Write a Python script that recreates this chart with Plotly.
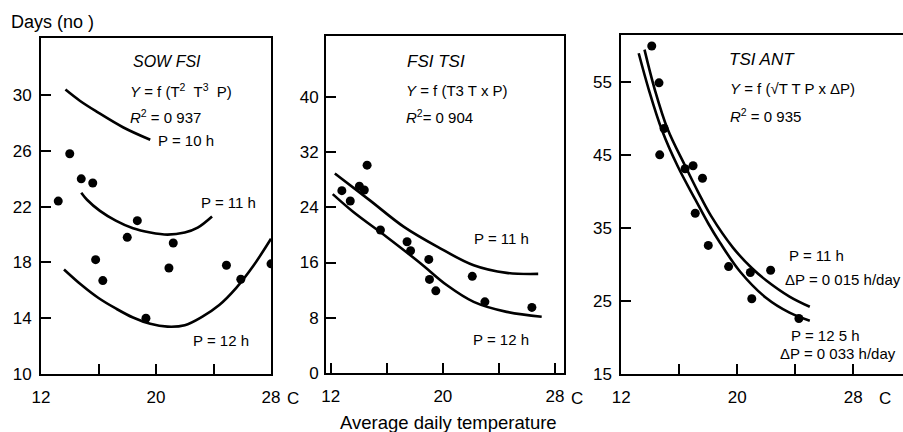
import plotly.graph_objects as go

W, H = 903, 432
FONT = "Liberation Sans, Arial, Helvetica, sans-serif"

# ---------------- Data ----------------
# Panel 1: SOW - FSI
p1_obs_temp = [13.2, 14.0, 14.8, 15.6, 18.7, 18.0, 21.2, 15.8, 16.3, 20.9, 19.3, 24.9, 25.9, 28.0]
p1_obs_days = [22.4, 25.8, 24.0, 23.7, 21.0, 19.8, 19.4, 18.2, 16.7, 17.6, 14.0, 17.8, 16.8, 17.9]
p1_p10_temp = [13.7, 14.7, 15.9, 17.7, 19.6]
p1_p10_days = [30.4, 29.6, 28.8, 27.7, 26.8]
p1_p11_temp = [14.8, 15.2, 16.1, 17.2, 18.4, 19.6, 20.8, 22.0, 22.9, 23.9]
p1_p11_days = [23.0, 22.5, 21.7, 21.0, 20.45, 20.15, 20.0, 20.15, 20.5, 21.3]
p1_p12_temp = [13.6, 14.8, 16.0, 17.2, 18.4, 19.6, 20.8, 22.0, 23.2, 24.4, 25.6, 26.8, 28.0]
p1_p12_days = [17.5, 16.4, 15.45, 14.7, 14.05, 13.6, 13.4, 13.5, 14.1, 14.95, 16.2, 17.8, 19.7]

# Panel 2: FSI - TSI
p2_obs_temp = [14.6, 12.8, 14.05, 14.4, 13.4, 15.55, 17.45, 17.7, 19.0, 19.05, 19.5, 22.1, 23.0, 26.35]
p2_obs_days = [30.1, 26.4, 27.05, 26.5, 24.9, 20.7, 19.0, 17.7, 16.45, 13.55, 11.9, 14.0, 10.3, 9.5]
p2_p11_temp = [12.3, 14.8, 17.2, 19.6, 22.2, 24.55, 26.8]
p2_p11_days = [28.9, 25.0, 21.2, 18.3, 15.6, 14.5, 14.35]
p2_p12_temp = [12.15, 13.6, 16.0, 18.4, 20.3, 22.2, 24.55, 27.05]
p2_p12_days = [25.9, 23.35, 19.7, 15.9, 12.7, 10.3, 8.85, 8.15]

# Panel 3: TSI - ANT
p3_obs_temp = [14.1, 14.6, 14.95, 14.65, 16.4, 16.95, 17.6, 17.1, 18.0, 19.4, 20.9, 22.3, 21.0, 24.25]
p3_obs_days = [59.9, 54.85, 48.6, 45.0, 43.1, 43.5, 41.8, 37.0, 32.6, 29.7, 28.9, 29.2, 25.3, 22.6]
p3_p11_temp = [13.6, 14.3, 15.2, 16.4, 17.3, 18.2, 19.7, 21.0, 22.0, 23.6, 25.0]
p3_p11_days = [59.4, 54.0, 48.5, 43.5, 39.9, 36.6, 32.3, 29.5, 27.8, 25.6, 24.2]
p3_p125_temp = [13.2, 13.9, 14.8, 15.9, 17.1, 18.0, 18.8, 20.2, 22.0, 23.6, 25.0]
p3_p125_days = [58.9, 53.9, 48.4, 43.4, 38.9, 35.6, 33.0, 29.0, 25.4, 23.4, 22.3]

x_ticks = [12, 20, 28]
p1_y_ticks = [10, 14, 18, 22, 26, 30]
p2_y_ticks = [0, 8, 16, 24, 32, 40]
p3_y_ticks = [15, 25, 35, 45, 55]


def px(x):
    return x / W


def py(y):
    return 1 - y / H


fig = go.Figure()

panels = [
    ("", p1_obs_temp, p1_obs_days, [(p1_p10_temp, p1_p10_days), (p1_p11_temp, p1_p11_days), (p1_p12_temp, p1_p12_days)]),
    ("2", p2_obs_temp, p2_obs_days, [(p2_p11_temp, p2_p11_days), (p2_p12_temp, p2_p12_days)]),
    ("3", p3_obs_temp, p3_obs_days, [(p3_p11_temp, p3_p11_days), (p3_p125_temp, p3_p125_days)]),
]

for suf, ot, od, curves in panels:
    for ct, cd in curves:
        fig.add_trace(go.Scatter(x=ct, y=cd, mode="lines", line=dict(color="black", width=2.6, shape="spline"),
                                 xaxis="x" + suf, yaxis="y" + suf, showlegend=False, hoverinfo="skip"))
    fig.add_trace(go.Scatter(x=ot, y=od, mode="markers", marker=dict(color="black", size=9),
                             xaxis="x" + suf, yaxis="y" + suf, showlegend=False))

axis_common = dict(showgrid=False, zeroline=False, showline=True, linecolor="black", linewidth=2,
                   ticks="inside", ticklen=10, tickwidth=1.5, tickcolor="black", automargin=False,
                   tickfont=dict(family=FONT, size=17, color="black"))
x_minor = dict(ticks="inside", tick0=12, dtick=4, ticklen=10, tickwidth=1.5, tickcolor="black", showgrid=False)

layout = dict(
    width=W, height=H, margin=dict(l=0, r=0, t=0, b=0, autoexpand=False),
    paper_bgcolor="white", plot_bgcolor="white", showlegend=False,
    font=dict(family=FONT, color="black"),
)

# panel 1
layout["xaxis"] = dict(axis_common, domain=[px(41), px(271)], range=[12, 28], tickvals=x_ticks, minor=x_minor,
                       mirror=True, anchor="y", ticklabelstandoff=7)
layout["yaxis"] = dict(axis_common, domain=[py(374), py(38)], range=[10, 34.1], tickvals=p1_y_ticks,
                       mirror=True, anchor="x", ticklabelstandoff=4)
# panel 2
layout["xaxis2"] = dict(axis_common, domain=[px(326), px(564)], range=[11.67, 28.64], tickvals=x_ticks, minor=x_minor,
                        mirror=True, anchor="y2", ticklabelstandoff=7)
layout["yaxis2"] = dict(axis_common, domain=[py(373), py(36)], range=[0, 48.8], tickvals=p2_y_ticks,
                        mirror=True, anchor="x2", ticklabelstandoff=2)
# panel 3
layout["xaxis3"] = dict(axis_common, domain=[px(621.3), 1.0], range=[12, 31.43], tickvals=x_ticks, minor=x_minor,
                        mirror=True, anchor="y3", ticklabelstandoff=7)
layout["yaxis3"] = dict(axis_common, domain=[py(374), py(35)], range=[15, 61.4], tickvals=p3_y_ticks,
                        mirror=False, anchor="x3", ticklabelstandoff=4)

fig.update_layout(**layout)


def txt(x, y, s, size=15, xanchor="left"):
    fig.add_annotation(x=px(x), y=py(y), xref="paper", yref="paper", text=s, showarrow=False,
                       xanchor=xanchor, yanchor="middle", font=dict(family=FONT, size=size, color="black"))


# panel 1 texts
txt(131, 62, "<i>SOW FSI</i>", 16)
txt(128, 90, "<i>Y</i> = f (T<sup>2</sup>  T<sup>3</sup>  P)", 15)
txt(128, 117, "<i>R</i><sup>2</sup> = 0 937", 15)
txt(156, 140, "P = 10 h", 15)
txt(199, 202, "P = 11 h", 15)
txt(191, 340, "P = 12 h", 15)
# panel 2 texts
txt(405, 62, "<i>FSI TSI</i>", 17)
txt(404, 90, "<i>Y</i> = f (T3 T x P)", 15)
txt(404, 117, "<i>R</i><sup>2</sup>= 0 904", 15)
txt(472, 239, "P = 11 h", 15)
txt(471, 339, "P = 12 h", 15)
# panel 3 texts
txt(727, 60, "<i>TSI ANT</i>", 17)
txt(728, 88, "<i>Y</i> = f (√T T P x ΔP)", 15)
txt(728, 115, "<i>R</i><sup>2</sup> = 0 935", 15)
txt(787, 255, "P = 11 h", 15)
txt(783, 279, "ΔP = 0 015 h/day", 15)
txt(789, 335, "P = 12 5 h", 15)
txt(778, 353, "ΔP = 0 033 h/day", 15)

# unit labels and axis titles
txt(293, 398, "C", 17, "center")
txt(577, 398, "C", 17, "center")
txt(885, 398, "C", 17, "center")
txt(9, 22, "Days (no )", 18)
txt(448, 422, "Average daily temperature", 18.5, "center")

fig.write_html("out.html", config={"displayModeBar": False},
               post_script="document.body.style.margin='0';document.body.style.padding='0';")
